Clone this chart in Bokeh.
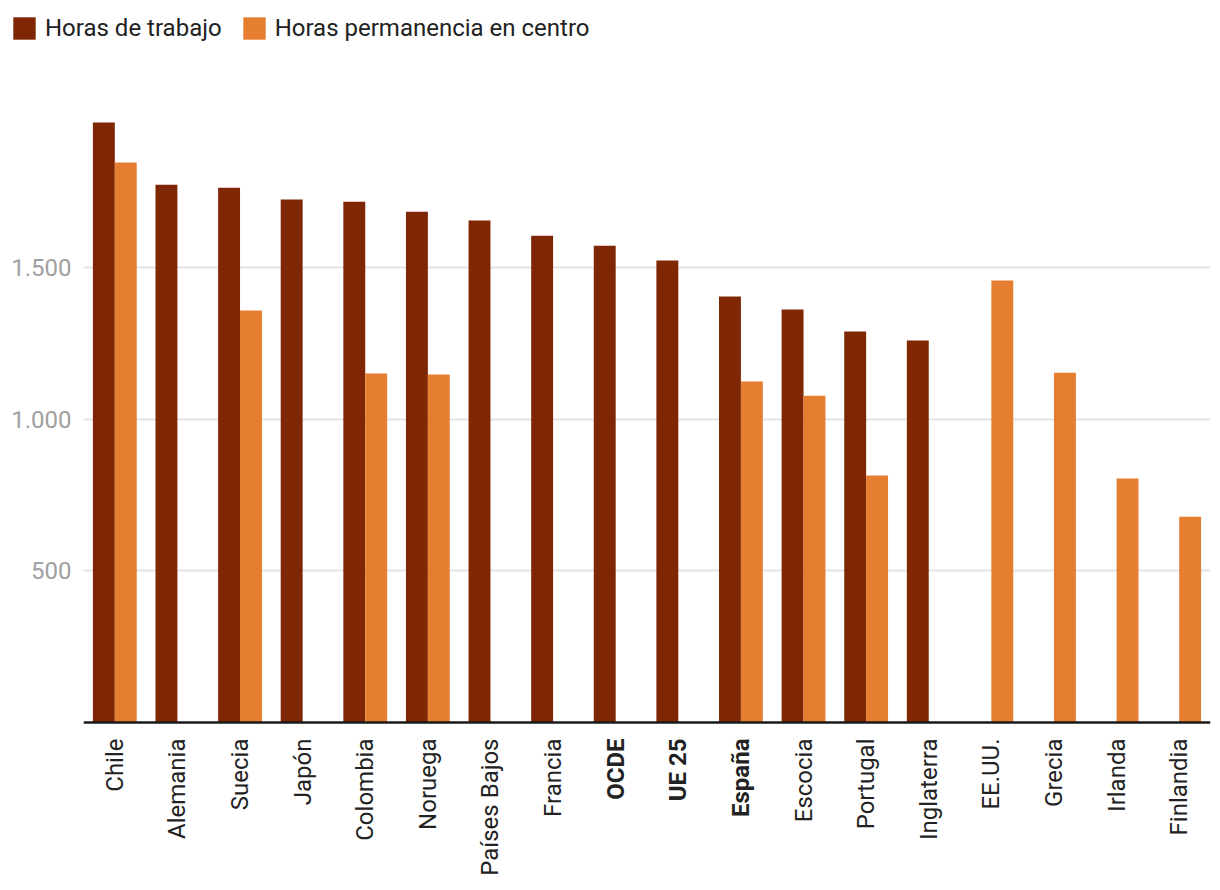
import math
from bokeh.plotting import figure
from bokeh.layouts import column
from bokeh.models import (ColumnDataSource, FactorRange, Range1d, FixedTicker,
                          Legend, LegendItem, Span)
from bokeh.core.properties import value, field
from bokeh.transform import dodge
from bokeh.embed import file_html
from bokeh.resources import INLINE

NaN = float("nan")

countries = ["Chile", "Alemania", "Suecia", "Japón", "Colombia", "Noruega",
             "Países Bajos", "Francia", "OCDE", "UE 25", "España", "Escocia",
             "Portugal", "Inglaterra", "EE.UU.", "Grecia", "Irlanda", "Finlandia"]
horas_trabajo = [1979, 1774, 1764, 1725, 1718, 1685, 1656, 1606, 1573, 1524,
                 1405, 1362, 1290, 1260, NaN, NaN, NaN, NaN]
horas_permanencia = [1847, NaN, 1359, NaN, 1151, 1148, NaN, NaN, NaN, NaN,
                     1125, 1078, 815, NaN, 1458, 1154, 805, 679]
bold_countries = ["OCDE", "UE 25", "España"]

yticks = [500, 1000, 1500]
ytick_labels = ["500", "1.000", "1.500"]

series_names = ["Horas de trabajo", "Horas permanencia en centro"]
series_colors = ["#7f2704", "#e67e31"]

FONT = "Roboto"
FS = "24px"

# ---------------- legend strip ----------------
leg = figure(width=1212, height=56, output_backend="svg", toolbar_location=None,
             x_range=Range1d(0, 1), y_range=Range1d(0, 1),
             x_axis_location=None, y_axis_location=None,
             min_border_left=0, min_border_right=0, min_border_top=0,
             min_border_bottom=0)
leg.frame_align = False
leg.outline_line_color = None
leg.grid.visible = False
# swatch sources (kept outside the visible range, only used by the legend)
sw = ColumnDataSource(dict(x=[5], top=[5]))
lr1 = leg.vbar(x="x", top="top", width=0.1, source=sw,
               fill_color=series_colors[0], line_color=None)
lr2 = leg.vbar(x="x", top="top", width=0.1, source=sw,
               fill_color=series_colors[1], line_color=None)
legend = Legend(items=[LegendItem(label=series_names[0], renderers=[lr1]),
                       LegendItem(label=series_names[1], renderers=[lr2])],
                orientation="horizontal", location=(10, 14),
                glyph_width=28, glyph_height=28, label_standoff=7, spacing=18,
                padding=0, margin=0, label_height=28,
                label_text_font=FONT, label_text_font_size=FS,
                label_text_color="#222222",
                border_line_color=None, background_fill_alpha=0)
leg.add_layout(legend)

# ---------------- main chart ----------------
source = ColumnDataSource(dict(
    country=countries,
    trabajo=horas_trabajo,
    permanencia=horas_permanencia,
    zero=[0] * len(countries),
    style=["bold" if c in bold_countries else "normal" for c in countries],
))

p = figure(width=1212, height=830, output_backend="svg", toolbar_location=None,
           x_range=FactorRange(*countries, range_padding=0),
           y_range=Range1d(-541, 2197),
           x_axis_location=None,
           min_border_left=83, min_border_right=2, min_border_top=0,
           min_border_bottom=0)
p.frame_align = False
p.outline_line_color = None

p.vbar(x=dodge("country", -0.175, range=p.x_range), top="trabajo", width=0.35,
       source=source, fill_color=series_colors[0], line_color=None)
p.vbar(x=dodge("country", 0.175, range=p.x_range), top="permanencia", width=0.35,
       source=source, fill_color=series_colors[1], line_color=None)

# baseline (category axis line)
p.add_layout(Span(location=0, dimension="width", line_color="#1a1a1a", line_width=2.5))

# category labels (vertical, some bold)
p.text(x="country", y="zero", text="country", source=source,
       angle=math.pi / 2, text_align="right", text_baseline="middle",
       y_offset=16, text_font=value(FONT), text_font_size=value(FS),
       text_font_style=field("style"), text_color="#222222")

p.xgrid.grid_line_color = None
p.ygrid.grid_line_color = "#e4e4e4"
p.ygrid.grid_line_width = 2
p.ygrid.ticker = FixedTicker(ticks=yticks)

p.yaxis.ticker = FixedTicker(ticks=yticks)
p.yaxis.major_label_overrides = {t: l for t, l in zip(yticks, ytick_labels)}
p.yaxis.axis_line_color = None
p.yaxis.major_tick_line_color = None
p.yaxis.minor_tick_line_color = None
p.yaxis.major_tick_out = 0
p.yaxis.major_tick_in = 0
p.yaxis.major_label_standoff = 12
p.yaxis.major_label_text_font = FONT
p.yaxis.major_label_text_font_size = FS
p.yaxis.major_label_text_color = "#a0a0a0"

layout = column(leg, p, spacing=0)
open("out.html", "w").write(file_html(layout, INLINE))
